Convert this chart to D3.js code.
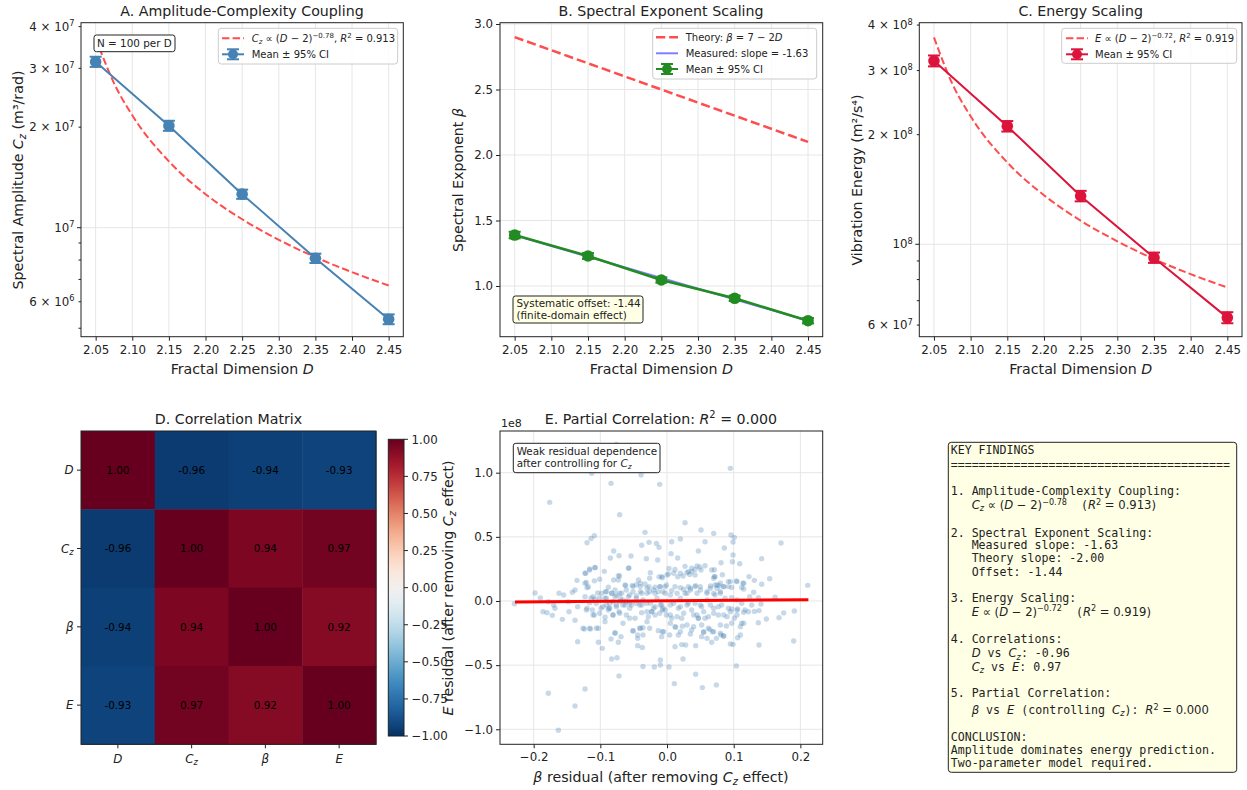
<!DOCTYPE html>
<html>
<head>
<meta charset="utf-8">
<script src="https://d3js.org/d3.v7.min.js"></script>
<style>
  body { margin: 0; background: #fff; }
  text { font-family: "DejaVu Sans", sans-serif; }
</style>
</head>
<body>
<div id="chart"></div>
<script>

// ---- data ----
var dVals = [2.05, 2.15, 2.25, 2.35, 2.45];
var dTicks = [2.05, 2.10, 2.15, 2.20, 2.25, 2.30, 2.35, 2.40, 2.45];

var czMean = [3.14e7, 2.02e7, 1.26e7, 8.1e6, 5.32e6];
var czCI = [1.1e6, 0.7e6, 0.4e6, 0.26e6, 0.18e6];
var fitD = [2.05, 2.075, 2.10, 2.15, 2.20, 2.25, 2.30, 2.35, 2.40, 2.45];
var czFit = [3.7e7, 2.71e7, 2.17e7, 1.58e7, 1.26e7, 1.06e7, 9.2e6, 8.16e6, 7.36e6, 6.71e6];

var betaMean = [1.389, 1.229, 1.046, 0.906, 0.735];
var betaCI = [0.025, 0.022, 0.02, 0.02, 0.02];
var lineD = [2.05, 2.45];
var theoryBeta = [2.9, 2.1];
var measuredBeta = [1.387, 0.735];

var energyMean = [3.19e8, 2.11e8, 1.357e8, 9.19e7, 6.29e7];
var energyCI = [1.1e7, 7e6, 4.5e6, 3e6, 2.2e6];
var energyFit = [3.70e8, 2.76e8, 2.246e8, 1.677e8, 1.364e8, 1.161e8, 1.019e8, 9.11e7, 8.28e7, 7.61e7];

var corrLabels = ["D", "Cz", "β", "E"];
var corrRows = [
  [1.00, -0.96, -0.94, -0.93],
  [-0.96, 1.00, 0.94, 0.97],
  [-0.94, 0.94, 1.00, 0.92],
  [-0.93, 0.97, 0.92, 1.00]
];
var cbTicks = [1.00, 0.75, 0.50, 0.25, 0.00, -0.25, -0.50, -0.75, -1.00];

// residuals: [beta residual, E residual (x1e8)]
var residuals = [
  [-0.076,1.221],[-0.113,0.995],[-0.039,0.982],[-0.084,0.917],[-0.011,0.909],[-0.176,0.769],[-0.071,0.673],[-0.033,0.535],
  [-0.109,0.509],[-0.114,0.488],[-0.120,0.454],[-0.027,0.457],[-0.016,0.449],[-0.038,0.434],[-0.012,0.418],[-0.080,0.390],
  [-0.085,0.335],[-0.072,0.353],[-0.054,0.351],[-0.014,0.319],[-0.031,0.330],[-0.057,0.257],[-0.116,0.249],[-0.108,0.260],
  [-0.094,0.231],[-0.122,0.216],[-0.025,0.221],[-0.073,0.197],[-0.135,0.161],[-0.101,0.169],[-0.109,0.157],[-0.080,0.164],
  [-0.073,0.164],[-0.007,0.181],[-0.012,0.188],[-0.040,0.138],[-0.033,0.133],[-0.121,0.144],[-0.062,0.120],[-0.052,0.122],
  [-0.046,0.127],[-0.088,0.107],[-0.118,0.111],[-0.027,0.111],[-0.018,0.107],
  [0.095,1.034],[0.027,0.610],[0.051,0.553],[0.070,0.527],[0.096,0.514],[0.101,0.496],[0.099,0.460],[0.020,0.483],
  [0.007,0.462],[0.057,0.462],[0.171,0.452],[0.086,0.413],[0.047,0.390],[0.006,0.369],[0.099,0.358],[0.016,0.335],
  [0.142,0.330],[0.098,0.306],[0.081,0.298],[0.109,0.290],[0.057,0.275],[0.049,0.265],[0.027,0.270],[0.037,0.256],
  [0.042,0.246],[0.003,0.253],[0.012,0.246],[0.032,0.229],[0.071,0.244],[0.051,0.241],[0.000,0.203],[0.024,0.195],
  [0.034,0.207],[0.071,0.190],[0.083,0.205],[-0.008,0.190],[0.016,0.188],[0.123,0.190],[0.154,0.174],[0.070,0.177],
  [0.095,0.151],[0.131,0.161],[0.104,0.156],[0.142,0.130],[0.114,0.138],[0.211,0.122],[0.078,0.120],[0.085,0.112],
  [0.043,0.120],[0.032,0.112],[0.012,0.112],[-0.003,0.112],[0.072,0.125],
  [-0.229,-0.021],[-0.198,0.062],[-0.190,0.023],[-0.178,-0.005],[-0.186,-0.083],[-0.180,-0.091],[-0.172,-0.112],[-0.170,-0.031],
  [-0.168,-0.057],[-0.162,0.060],[-0.155,0.047],[-0.157,-0.143],[-0.148,-0.005],[-0.147,-0.083],[-0.142,0.068],[-0.138,0.086],
  [-0.138,-0.150],[-0.134,-0.044],[-0.134,-0.317],[-0.124,-0.218],[-0.115,-0.218],[-0.103,-0.213],[-0.120,-0.057],[-0.120,0.104],
  [-0.114,0.021],[-0.108,0.016],[-0.112,-0.070],[-0.104,0.062],[-0.103,-0.322],[-0.097,-0.369],[-0.109,-0.109],[-0.099,-0.057],
  [-0.093,-0.127],[-0.092,0.073],[-0.091,0.021],[-0.083,0.060],[-0.086,-0.018],[-0.078,0.086],[-0.083,-0.452],[-0.075,-0.442],
  [-0.072,-0.584],[-0.078,-0.252],[-0.069,-0.278],[-0.084,-0.296],[-0.073,-0.322],[-0.072,-0.083],[-0.081,-0.109],[-0.070,0.021],
  [-0.063,-0.031],[-0.061,-0.109],[-0.051,-0.234],[-0.044,-0.291],[-0.044,-0.348],[-0.037,-0.363],[-0.036,-0.208],[-0.040,-0.213],
  [-0.048,-0.135],[-0.056,-0.057],[-0.046,-0.018],[-0.051,0.073],[-0.036,-0.511],[-0.019,-0.514],[-0.010,-0.499],[-0.010,-0.459],
  [-0.030,-0.083],[-0.020,-0.057],[-0.030,-0.161],[-0.007,-0.239],[-0.178,-0.719],[-0.123,-0.686],[-0.138,-0.818],[-0.163,-1.008],
  [-0.044,-0.265],
  [-0.098,0.060],[-0.093,0.021],[-0.091,-0.031],[-0.087,-0.057],[-0.081,-0.005],[-0.076,-0.031],[-0.071,-0.005],[-0.066,0.008],
  [-0.061,-0.005],[-0.056,0.047],[-0.053,-0.031],[-0.046,0.021],[-0.040,0.073],[-0.038,-0.031],[-0.036,0.008],[-0.030,0.060],
  [-0.025,-0.018],[-0.023,-0.083],[-0.015,0.021],[-0.013,0.073],[-0.010,-0.031],[-0.007,-0.070],[-0.018,-0.109],[-0.028,-0.122],
  [-0.076,0.047],[-0.068,0.060],[-0.061,0.086],[-0.051,0.112],[-0.040,0.112],[-0.030,0.099],[-0.020,0.086],[-0.010,0.112],
  [0.191,-0.078],[0.175,-0.093],[0.168,-0.130],[0.162,0.029],[0.190,-0.312],[0.149,-0.140],[0.138,-0.075],[0.137,-0.169],
  [0.138,-0.343],[0.141,-0.023],[0.131,-0.081],[0.127,-0.031],[0.122,-0.083],[0.115,-0.088],[0.112,-0.174],[0.106,-0.062],
  [0.101,-0.135],[0.097,-0.062],[0.110,-0.265],[0.106,-0.286],[0.099,-0.338],[0.095,-0.335],[0.104,-0.506],[0.089,-0.195],
  [0.085,-0.273],[0.081,-0.265],[0.074,-0.291],[0.067,-0.322],[0.060,-0.291],[0.052,-0.278],[0.055,-0.244],[0.064,-0.221],
  [0.068,-0.239],[0.043,-0.348],[0.035,-0.257],[0.028,-0.343],[0.022,-0.340],[0.023,-0.197],[0.013,-0.205],[0.017,-0.265],
  [0.012,-0.356],[0.004,-0.265],[-0.005,-0.239],[0.024,-0.452],[0.003,-0.514],[0.043,-0.571],[0.011,-0.644],[0.053,-0.675],
  [0.074,-0.654],[0.115,0.094],[0.130,0.068],[0.124,0.034],[0.137,0.026],[0.092,0.112],[0.065,0.099],[0.042,0.112],
  [0.097,0.026],[0.080,0.060],
  [-0.006,0.073],[0.005,0.047],[0.010,-0.018],[0.017,-0.057],[0.020,0.021],[0.027,0.060],[0.032,-0.018],[0.037,-0.070],
  [0.045,-0.109],[0.047,-0.135],[0.050,-0.031],[0.055,-0.083],[0.060,0.008],[0.062,-0.122],[0.070,-0.057],[0.072,0.047],
  [0.077,-0.109],[0.082,-0.031],[0.087,0.021],[0.090,-0.122],[-0.001,-0.109],[0.007,-0.135],[-0.008,-0.031],[-0.003,-0.070],
  [0.050,0.086],[0.035,0.086],[0.020,0.104],[0.060,0.073],[0.075,0.099],[0.105,0.008],[0.112,-0.018],[0.052,-0.187],
  [0.040,-0.200],[0.080,-0.187],[0.022,-0.135],
  [-0.108,0.262],[-0.116,0.242],[-0.123,0.216],[-0.058,0.255],[0.045,0.273],[-0.123,0.138],[-0.071,0.195],[-0.063,0.125],
  [-0.043,0.164],[-0.026,0.177],[0.002,0.210],[0.010,0.216],[0.020,0.216],[0.030,0.221],[0.037,0.229],[0.042,0.203],
  [0.067,0.242],[0.072,0.190],[0.080,0.138],[0.092,0.151],[0.105,0.151],[0.115,0.138],[-0.011,0.112],[-0.001,0.125],
  [0.007,0.081],[0.025,0.091],[0.035,0.099],[0.050,0.112],[0.065,0.117],[0.075,0.125],[0.085,0.112],[0.097,0.106],
  [0.112,0.106],[-0.026,0.073],[-0.018,0.060],[-0.003,0.060],[0.015,0.060],[0.030,0.060],[0.045,0.060],[0.060,0.060],
  [0.070,0.060],[0.080,0.073],[-0.091,0.073],[-0.083,0.060],[-0.078,0.034],[-0.071,0.060],[-0.058,0.034],[-0.046,0.039],
  [-0.038,0.060],[-0.111,0.034],[-0.101,0.021],[-0.123,0.034],[-0.116,-0.013],[-0.106,-0.018],[-0.096,-0.044],[-0.086,-0.057],
  [-0.076,-0.044],[-0.066,-0.031],[-0.056,-0.018],[-0.041,-0.031],[-0.031,-0.018],[-0.018,-0.044],[-0.006,-0.057],[0.005,-0.031],
  [0.020,-0.044],[0.030,-0.031],[0.042,-0.018],[0.052,-0.044],[0.065,-0.031],[0.077,-0.044],[0.092,-0.057],[0.105,-0.070],
  [0.117,-0.070],[-0.121,-0.070],[-0.111,-0.109],[-0.101,-0.096],[-0.088,-0.070],[-0.081,-0.109],[-0.071,-0.096],[-0.056,-0.135],
  [-0.038,-0.091],[-0.023,-0.083],[-0.011,-0.096],[0.005,-0.109],[0.015,-0.122],[0.025,-0.096],[0.040,-0.109],[0.047,-0.135],
  [0.057,-0.135],[0.070,-0.096],[0.085,-0.109],[0.095,-0.083],[0.105,-0.109],[0.115,-0.174],[-0.126,-0.213],[-0.116,-0.213],
  [-0.106,-0.213],[-0.078,-0.247],[-0.051,-0.231],[-0.041,-0.213],[-0.026,-0.213],[-0.013,-0.231],[0.012,-0.200],[0.020,-0.239],
  [0.037,-0.226],[0.055,-0.239],[0.062,-0.213],[0.070,-0.239],[0.080,-0.252],[0.085,-0.273],[-0.008,-0.278],[-0.036,-0.265],
  [-0.093,-0.161],[-0.066,-0.174],[0.005,-0.174],[0.030,-0.187],[0.097,-0.174],[0.110,-0.200]
];
var resFitX = [-0.228, 0.212];
var resFitY = [-0.008, 0.010];
var resXTicks = [-0.2, -0.1, 0.0, 0.1, 0.2];
var resYTicks = [-1.0, -0.5, 0.0, 0.5, 1.0];

// ---- helpers ----
var svg = d3.select("#chart").append("svg")
  .attr("width", 1247).attr("height", 790)
  .style("background", "#fff");

var INK = "#222";
var GRID = "#e6e6e6";
var TICK = 11.8, LAB = 14.2, LEG = 10;
var fmtMinus = function(s) { return s.replace("-", "\u2212"); };

// text with italic / sub / sup pieces
function rich(g, x, y, segs, fs, anchor) {
  var t = g.append("text").attr("x", x).attr("y", y)
    .attr("font-size", fs).attr("fill", INK)
    .attr("text-anchor", anchor || "start")
    .style("white-space", "pre");
  var shift = 0;
  segs.forEach(function(s) {
    var seg = (typeof s === "string") ? {t: s} : s;
    var target = seg.sup ? -0.38 * fs : (seg.sub ? 0.2 * fs : 0);
    var ts = t.append("tspan").text(seg.t);
    if (target !== shift) { ts.attr("dy", target - shift); shift = target; }
    if (seg.sup || seg.sub) ts.attr("font-size", fs * 0.7);
    if (seg.i) ts.attr("font-style", "italic");
    if (seg.mono) ts.attr("font-family", "DejaVu Sans Mono");
  });
  return t;
}

function frame(g, x0, y0, x1, y1) {
  g.append("rect").attr("x", x0).attr("y", y0).attr("width", x1 - x0).attr("height", y1 - y0)
    .attr("fill", "none").attr("stroke", INK).attr("stroke-width", 1);
}

function styleAxis(sel, fs) {
  sel.select(".domain").remove();
  sel.selectAll("line").attr("stroke", INK);
  sel.selectAll("text").attr("font-size", fs).attr("fill", INK)
    .attr("font-family", "DejaVu Sans");
}

function dAxis(g, x, y0, top) {
  dTicks.forEach(function(d) {
    g.append("line").attr("x1", x(d)).attr("x2", x(d)).attr("y1", top).attr("y2", y0)
      .attr("stroke", GRID);
  });
  g.append("g").attr("transform", "translate(0," + y0 + ")")
    .call(d3.axisBottom(x).tickValues(dTicks).tickFormat(d3.format(".2f")).tickSize(4).tickPadding(4.5))
    .call(styleAxis, TICK);
  rich(g, (x.range()[0] + x.range()[1]) / 2, 373.5, ["Fractal Dimension ", {t: "D", i: true}], LAB, "middle");
}

function logAxis(g, y, x0, x1, major, minor, labels) {
  major.forEach(function(v) {
    g.append("line").attr("x1", x0).attr("x2", x1).attr("y1", y(v)).attr("y2", y(v)).attr("stroke", GRID);
    g.append("line").attr("x1", x0 - 4).attr("x2", x0).attr("y1", y(v)).attr("y2", y(v)).attr("stroke", INK);
  });
  minor.forEach(function(v) {
    g.append("line").attr("x1", x0 - 2.5).attr("x2", x0).attr("y1", y(v)).attr("y2", y(v)).attr("stroke", INK);
  });
  labels.forEach(function(l) {
    var e = Math.floor(Math.log10(l) + 1e-9);
    var m = Math.round(l / Math.pow(10, e));
    var segs = m === 1 ? ["10", {t: String(e), sup: true}] : [m + " \u00d7 10", {t: String(e), sup: true}];
    rich(g, x0 - 6.5, y(l) + 4.2, segs, TICK, "end");
  });
}

function errMarks(g, x, y, xs, vals, ci, color, r) {
  xs.forEach(function(d, i) {
    var lo = y(vals[i] - ci[i]), hi = y(vals[i] + ci[i]);
    g.append("line").attr("x1", x(d)).attr("x2", x(d)).attr("y1", lo).attr("y2", hi)
      .attr("stroke", color).attr("stroke-width", 2);
    [lo, hi].forEach(function(yy) {
      g.append("line").attr("x1", x(d) - 6).attr("x2", x(d) + 6).attr("y1", yy).attr("y2", yy)
        .attr("stroke", color).attr("stroke-width", 2);
    });
    g.append("circle").attr("cx", x(d)).attr("cy", y(vals[i])).attr("r", r).attr("fill", color);
  });
}

function legendBox(g, x, y, w, h) {
  g.append("rect").attr("x", x).attr("y", y).attr("width", w).attr("height", h).attr("rx", 3)
    .attr("fill", "#fff").attr("fill-opacity", 0.8).attr("stroke", "#cccccc");
}
function legDash(g, x, y, color) {
  g.append("line").attr("x1", x).attr("x2", x + 22).attr("y1", y).attr("y2", y)
    .attr("stroke", color).attr("stroke-width", 2).attr("stroke-dasharray", "7.4,3.2");
}
function legErr(g, x, y, color) {
  g.append("line").attr("x1", x).attr("x2", x + 22).attr("y1", y).attr("y2", y)
    .attr("stroke", color).attr("stroke-width", 2);
  [y - 5, y + 5].forEach(function(yy) {
    g.append("line").attr("x1", x + 5).attr("x2", x + 17).attr("y1", yy).attr("y2", yy)
      .attr("stroke", color).attr("stroke-width", 2);
  });
  g.append("line").attr("x1", x + 11).attr("x2", x + 11).attr("y1", y - 5).attr("y2", y + 5)
    .attr("stroke", color).attr("stroke-width", 2);
  g.append("circle").attr("cx", x + 11).attr("cy", y).attr("r", 5).attr("fill", color);
}
function yLabel(g, cx, cy, segs) {
  var t = rich(g, 0, 0, segs, LAB, "middle");
  t.attr("transform", "translate(" + cx + "," + cy + ") rotate(-90)");
}

var fitRed = "#ff4d4d";

// ---- A. Amplitude-Complexity Coupling ----
var gA = svg.append("g");
var xA = d3.scaleLinear().domain([2.03, 2.47]).range([81, 403.3]);
var yA = d3.scaleLog().domain([4.716e6, 4.11e7]).range([336.7, 22.7]);
dAxis(gA, xA, 336.7, 22.7);
logAxis(gA, yA, 81, 403.3, [1e7], [5e6, 6e6, 7e6, 8e6, 9e6, 2e7, 3e7, 4e7], [6e6, 1e7, 2e7, 3e7, 4e7]);
gA.append("path").datum(d3.zip(fitD, czFit))
  .attr("d", d3.line().x(function(d) { return xA(d[0]); }).y(function(d) { return yA(d[1]); }).curve(d3.curveMonotoneX))
  .attr("fill", "none").attr("stroke", fitRed).attr("stroke-width", 2).attr("stroke-dasharray", "7.4,3.2");
gA.append("path").datum(d3.zip(dVals, czMean))
  .attr("d", d3.line().x(function(d) { return xA(d[0]); }).y(function(d) { return yA(d[1]); }))
  .attr("fill", "none").attr("stroke", "steelblue").attr("stroke-width", 2);
errMarks(gA, xA, yA, dVals, czMean, czCI, "steelblue", 5.8);
frame(gA, 81, 22.7, 403.3, 336.7);
rich(gA, 242, 15.5, ["A. Amplitude-Complexity Coupling"], LAB, "middle");
yLabel(gA, 23, 180, ["Spectral Amplitude ", {t: "C", i: true}, {t: "z", i: true, sub: true}, " (m\u00b3/rad)"]);
gA.append("rect").attr("x", 94).attr("y", 35).attr("width", 81).attr("height", 16.7).attr("rx", 2.5)
  .attr("fill", "#fff").attr("stroke", INK);
rich(gA, 97, 47.2, ["N = 100 per D"], 10.4);
legendBox(gA, 218.3, 28.3, 179.4, 35.7);
legDash(gA, 222, 38.3, fitRed);
rich(gA, 251.7, 41.8, [{t: "C", i: true}, {t: "z", i: true, sub: true}, " \u221d (", {t: "D", i: true}, " \u2212 2)",
  {t: "\u22120.78", sup: true}, ", ", {t: "R", i: true}, {t: "2", sup: true}, " = 0.913"], LEG);
legErr(gA, 222, 54.3, "steelblue");
rich(gA, 251.7, 57.8, ["Mean \u00b1 95% CI"], LEG);

// ---- B. Spectral Exponent Scaling ----
var gB = svg.append("g");
var xB = d3.scaleLinear().domain([2.03, 2.47]).range([500, 822.7]);
var yB = d3.scaleLinear().domain([0.613, 3.01]).range([336.7, 22.7]);
dAxis(gB, xB, 336.7, 22.7);
[1.0, 1.5, 2.0, 2.5, 3.0].forEach(function(v) {
  gB.append("line").attr("x1", 500).attr("x2", 822.7).attr("y1", yB(v)).attr("y2", yB(v)).attr("stroke", GRID);
});
gB.append("g").attr("transform", "translate(500,0)")
  .call(d3.axisLeft(yB).tickValues([1.0, 1.5, 2.0, 2.5, 3.0]).tickFormat(d3.format(".1f")).tickSize(4).tickPadding(3))
  .call(styleAxis, TICK);
gB.append("path").datum(d3.zip(lineD, theoryBeta))
  .attr("d", d3.line().x(function(d) { return xB(d[0]); }).y(function(d) { return yB(d[1]); }))
  .attr("fill", "none").attr("stroke", fitRed).attr("stroke-width", 2.5).attr("stroke-dasharray", "9.2,4");
gB.append("path").datum(d3.zip(lineD, measuredBeta))
  .attr("d", d3.line().x(function(d) { return xB(d[0]); }).y(function(d) { return yB(d[1]); }))
  .attr("fill", "none").attr("stroke", "#8080ff").attr("stroke-width", 2);
gB.append("path").datum(d3.zip(dVals, betaMean))
  .attr("d", d3.line().x(function(d) { return xB(d[0]); }).y(function(d) { return yB(d[1]); }))
  .attr("fill", "none").attr("stroke", "forestgreen").attr("stroke-width", 2.5);
errMarks(gB, xB, yB, dVals, betaMean, betaCI, "forestgreen", 5.8);
frame(gB, 500, 22.7, 822.7, 336.7);
rich(gB, 661, 15.5, ["B. Spectral Exponent Scaling"], LAB, "middle");
yLabel(gB, 463, 180, ["Spectral Exponent ", {t: "\u03b2", i: true}]);
gB.append("rect").attr("x", 513).attr("y", 296).attr("width", 130).attr("height", 27).attr("rx", 2.5)
  .attr("fill", "#ffffe0").attr("fill-opacity", 0.85).attr("stroke", INK);
rich(gB, 516.5, 307, ["Systematic offset: -1.44"], 10.4);
rich(gB, 516.5, 319, ["(finite-domain effect)"], 10.4);
legendBox(gB, 652.7, 28.3, 164, 50.7);
gB.append("line").attr("x1", 656).attr("x2", 678).attr("y1", 37.3).attr("y2", 37.3)
  .attr("stroke", fitRed).attr("stroke-width", 2.5).attr("stroke-dasharray", "9.2,4");
rich(gB, 685.7, 40.8, ["Theory: ", {t: "\u03b2", i: true}, " = 7 \u2212 2", {t: "D", i: true}], LEG);
gB.append("line").attr("x1", 656).attr("x2", 678).attr("y1", 53.3).attr("y2", 53.3)
  .attr("stroke", "#8080ff").attr("stroke-width", 2);
rich(gB, 685.7, 56.8, ["Measured: slope = -1.63"], LEG);
legErr(gB, 656, 69, "forestgreen");
rich(gB, 685.7, 72.5, ["Mean \u00b1 95% CI"], LEG);

// ---- C. Energy Scaling ----
var gC = svg.append("g");
var xC = d3.scaleLinear().domain([2.03, 2.47]).range([919.3, 1242]);
var yC = d3.scaleLog().domain([5.575e7, 4.06e8]).range([336.7, 22.7]);
dAxis(gC, xC, 336.7, 22.7);
logAxis(gC, yC, 919.3, 1242, [1e8], [6e7, 7e7, 8e7, 9e7, 2e8, 3e8, 4e8], [6e7, 1e8, 2e8, 3e8, 4e8]);
gC.append("path").datum(d3.zip(fitD, energyFit))
  .attr("d", d3.line().x(function(d) { return xC(d[0]); }).y(function(d) { return yC(d[1]); }).curve(d3.curveMonotoneX))
  .attr("fill", "none").attr("stroke", fitRed).attr("stroke-width", 2).attr("stroke-dasharray", "7.4,3.2");
gC.append("path").datum(d3.zip(dVals, energyMean))
  .attr("d", d3.line().x(function(d) { return xC(d[0]); }).y(function(d) { return yC(d[1]); }))
  .attr("fill", "none").attr("stroke", "crimson").attr("stroke-width", 2);
errMarks(gC, xC, yC, dVals, energyMean, energyCI, "crimson", 5.8);
frame(gC, 919.3, 22.7, 1242, 336.7);
rich(gC, 1080.7, 15.5, ["C. Energy Scaling"], LAB, "middle");
yLabel(gC, 862, 180, ["Vibration Energy (m\u00b2/s\u2074)"]);
legendBox(gC, 1061.7, 28.3, 175, 35);
legDash(gC, 1066, 38.3, fitRed);
rich(gC, 1095, 41.8, [{t: "E", i: true}, " \u221d (", {t: "D", i: true}, " \u2212 2)",
  {t: "\u22120.72", sup: true}, ", ", {t: "R", i: true}, {t: "2", sup: true}, " = 0.919"], LEG);
legErr(gC, 1066, 54.3, "crimson");
rich(gC, 1095, 57.8, ["Mean \u00b1 95% CI"], LEG);

// ---- D. Correlation Matrix ----
var gD = svg.append("g");
var xD = d3.scaleBand().domain(d3.range(4)).range([81, 376]);
var yD = d3.scaleBand().domain(d3.range(4)).range([431, 744.3]);
var cmap = function(v) { return d3.interpolateRdBu((1 - v) / 2); };
var labelSegs = function(l) {
  return l === "Cz" ? [{t: "C", i: true}, {t: "z", i: true, sub: true}] : [{t: l, i: true}];
};
corrRows.forEach(function(row, i) {
  row.forEach(function(v, j) {
    gD.append("rect").attr("x", xD(j)).attr("y", yD(i)).attr("width", xD.bandwidth() + 0.5)
      .attr("height", yD.bandwidth() + 0.5).attr("fill", cmap(v));
    rich(gD, xD(j) + xD.bandwidth() / 2, yD(i) + yD.bandwidth() / 2 + 3.8, [v.toFixed(2)], 10.4, "middle")
      .attr("fill", "#000");
  });
});
frame(gD, 81, 431, 376, 744.3);
corrLabels.forEach(function(l, i) {
  var cx = xD(i) + xD.bandwidth() / 2, cy = yD(i) + yD.bandwidth() / 2;
  gD.append("line").attr("x1", cx).attr("x2", cx).attr("y1", 744.3).attr("y2", 748.3).attr("stroke", INK);
  rich(gD, cx, 762.5, labelSegs(l), TICK, "middle");
  gD.append("line").attr("x1", 77).attr("x2", 81).attr("y1", cy).attr("y2", cy).attr("stroke", INK);
  rich(gD, 73.5, cy + 4.2, labelSegs(l), TICK, "end");
});
rich(gD, 228.5, 423.5, ["D. Correlation Matrix"], LAB, "middle");
// colorbar
var grad = svg.append("defs").append("linearGradient").attr("id", "cbgrad")
  .attr("x1", 0).attr("x2", 0).attr("y1", 0).attr("y2", 1);
d3.range(0, 1.0001, 0.05).forEach(function(t) {
  grad.append("stop").attr("offset", t).attr("stop-color", cmap(1 - 2 * t));
});
var yCb = d3.scaleLinear().domain([-1, 1]).range([736, 439.3]);
gD.append("rect").attr("x", 388.3).attr("y", 439.3).attr("width", 15.7).attr("height", 296.7)
  .attr("fill", "url(#cbgrad)");
frame(gD, 388.3, 439.3, 404, 736);
cbTicks.forEach(function(v) {
  gD.append("line").attr("x1", 404).attr("x2", 408).attr("y1", yCb(v)).attr("y2", yCb(v)).attr("stroke", INK);
  rich(gD, 411.5, yCb(v) + 4.2, [fmtMinus(d3.format(".2f")(v))], TICK);
});

// ---- E. Partial Correlation ----
var gE = svg.append("g");
var xE = d3.scaleLinear().domain([-0.2505, 0.2335]).range([500, 822.7]);
var yE = d3.scaleLinear().domain([-1.117, 1.325]).range([744.3, 431]);
resXTicks.forEach(function(v) {
  gE.append("line").attr("x1", xE(v)).attr("x2", xE(v)).attr("y1", 431).attr("y2", 744.3).attr("stroke", GRID);
});
resYTicks.forEach(function(v) {
  gE.append("line").attr("x1", 500).attr("x2", 822.7).attr("y1", yE(v)).attr("y2", yE(v)).attr("stroke", GRID);
});
gE.append("g").attr("transform", "translate(0,744.3)")
  .call(d3.axisBottom(xE).tickValues(resXTicks).tickFormat(function(d) { return fmtMinus(d3.format(".1f")(d)); }).tickSize(4).tickPadding(4.5))
  .call(styleAxis, TICK);
gE.append("g").attr("transform", "translate(500,0)")
  .call(d3.axisLeft(yE).tickValues(resYTicks).tickFormat(function(d) { return fmtMinus(d3.format(".1f")(d)); }).tickSize(4).tickPadding(3))
  .call(styleAxis, TICK);
gE.selectAll(".pt").data(residuals).enter().append("circle")
  .attr("cx", function(d) { return xE(d[0]); })
  .attr("cy", function(d) { return yE(d[1]); })
  .attr("r", 2.7).attr("fill", "steelblue").attr("fill-opacity", 0.3);
gE.append("path").datum(d3.zip(resFitX, resFitY))
  .attr("d", d3.line().x(function(d) { return xE(d[0]); }).y(function(d) { return yE(d[1]); }))
  .attr("stroke", "red").attr("stroke-width", 3);
frame(gE, 500, 431, 822.7, 744.3);
rich(gE, 661, 423.5, ["E. Partial Correlation: ", {t: "R", i: true}, {t: "2", sup: true}, " = 0.000"], LAB, "middle");
rich(gE, 501, 427, ["1e8"], 11);
gE.append("rect").attr("x", 513.3).attr("y", 443.3).attr("width", 146.7).attr("height", 29.4).attr("rx", 2.5)
  .attr("fill", "#fff").attr("stroke", INK);
rich(gE, 516.7, 455, ["Weak residual dependence"], 10.4);
rich(gE, 516.7, 467.3, ["after controlling for ", {t: "C", i: true}, {t: "z", i: true, sub: true}], 10.4);
rich(gE, 661, 782, [{t: "\u03b2", i: true}, " residual (after removing ", {t: "C", i: true}, {t: "z", i: true, sub: true}, " effect)"], LAB, "middle");
yLabel(gE, 453, 588, [{t: "E", i: true}, " residual (after removing ", {t: "C", i: true}, {t: "z", i: true, sub: true}, " effect)"]);

// ---- Key findings text box ----
var gF = svg.append("g");
gF.append("rect").attr("x", 948.3).attr("y", 442.3).attr("width", 288.4).attr("height", 330).attr("rx", 3)
  .attr("fill", "#ffffe0").attr("fill-opacity", 0.85).attr("stroke", INK);
var M = function(s) { return {t: s, mono: true}; };
var I = function(s) { return {t: s, i: true}; };
var findings = [
  [450, [M("KEY FINDINGS")]],
  [465, [M("========================================")]],
  [491, [M("1. Amplitude-Complexity Coupling:")]],
  [505, [M("   "), I("C"), {t: "z", i: true, sub: true}, " \u221d (", I("D"), " \u2212 2)", {t: "\u22120.78", sup: true}, M("  ("), I("R"), {t: "2", sup: true}, " = 0.913)"]],
  [532.7, [M("2. Spectral Exponent Scaling:")]],
  [545, [M("   Measured slope: -1.63")]],
  [558.3, [M("   Theory slope: -2.00")]],
  [571.7, [M("   Offset: -1.44")]],
  [598.3, [M("3. Energy Scaling:")]],
  [611.7, [M("   "), I("E"), " \u221d (", I("D"), " \u2212 2)", {t: "\u22120.72", sup: true}, M("  ("), I("R"), {t: "2", sup: true}, " = 0.919)"]],
  [639, [M("4. Correlations:")]],
  [653.3, [M("   "), I("D"), M(" vs "), I("C"), {t: "z", i: true, sub: true}, M(": -0.96")]],
  [666.7, [M("   "), I("C"), {t: "z", i: true, sub: true}, M(" vs "), I("E"), M(": 0.97")]],
  [693.3, [M("5. Partial Correlation:")]],
  [710, [M("   "), I("\u03b2"), M(" vs "), I("E"), M(" (controlling "), I("C"), {t: "z", i: true, sub: true}, M("): "), I("R"), {t: "2", sup: true}, " = 0.000"]],
  [736.7, [M("CONCLUSION:")]],
  [750, [M("Amplitude dominates energy prediction.")]],
  [763.3, [M("Two-parameter model required.")]]
];
findings.forEach(function(f) {
  rich(gF, 950.7, f[0] + 4, f[1], 11.6);
});

</script>
</body>
</html>
